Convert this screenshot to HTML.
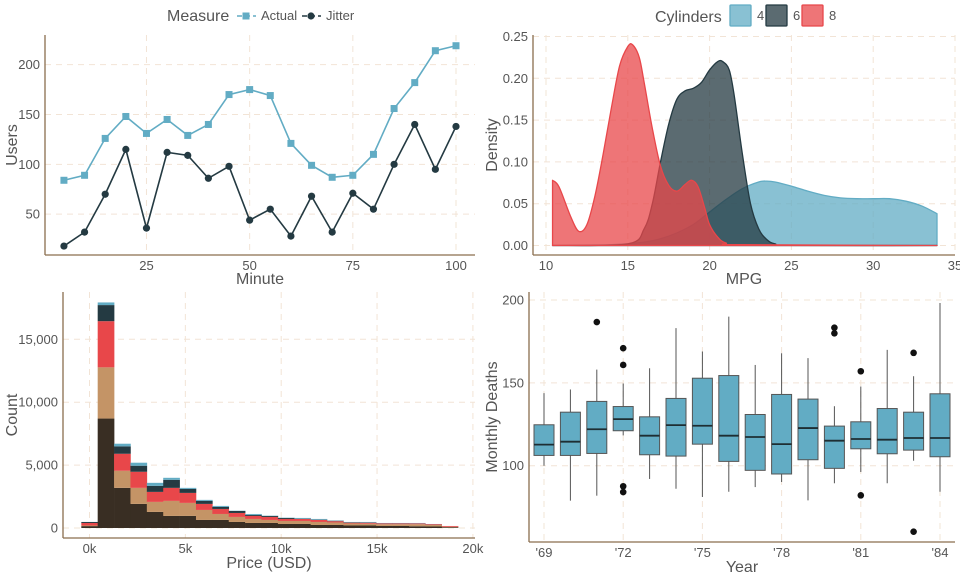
<!DOCTYPE html>
<html><head><meta charset="utf-8"><style>
body{margin:0;background:#fff;}
svg{display:block;font-family:"Liberation Sans",sans-serif;}
.tick{font-size:13px;fill:#555;}
.title{font-size:16px;fill:#555;}
.grid{stroke:#f2e4d6;stroke-width:1;stroke-dasharray:6,5;fill:none;}
.axis{stroke:#8a6e4e;stroke-width:1.3;}
</style></head><body>
<svg id="chart" width="960" height="576" viewBox="0 0 960 576"></svg>
<script>
// ---------- Panel 1 data ----------
const minutes=[5,10,15,20,25,30,35,40,45,50,55,60,65,70,75,80,85,90,95,100];
const actualUsers=[84,89,126,148,131,145,129,140,170,175,169,121,99,87,89,110,156,182,214,219];
const jitterUsers=[18,32,70,115,36,112,109,86,98,44,55,28,68,32,71,55,100,140,95,138];
const p1XTicks=[25,50,75,100];
const p1YTicks=[50,100,150,200];
// ---------- Panel 2 data ----------
const cylLabels=["4","6","8"];
const dens4X=[10.4,14,16,17,18,19,20,21,22,23,23.5,24,25,26,27,28,29,30,31,32,33,33.9];
const dens4Y=[0,0.001,0.004,0.008,0.015,0.025,0.04,0.055,0.068,0.076,0.077,0.076,0.071,0.065,0.06,0.057,0.056,0.056,0.056,0.053,0.047,0.038];
const dens6X=[10.4,15,16,16.5,17,17.5,18,18.5,19,19.5,20,20.5,20.8,21.2,21.5,22,22.5,23,23.5,24,25,33.9];
const dens6Y=[0,0.002,0.02,0.05,0.1,0.145,0.175,0.185,0.188,0.195,0.21,0.22,0.22,0.21,0.18,0.11,0.05,0.02,0.007,0.002,0,0];
const dens8X=[10.4,10.8,11.5,12,12.5,13,13.5,14,14.5,15,15.3,15.7,16,16.5,17,17.5,18,18.5,18.9,19.3,19.7,20,20.5,21,22,33.9];
const dens8Y=[0.078,0.07,0.035,0.017,0.025,0.06,0.11,0.165,0.215,0.238,0.24,0.225,0.195,0.14,0.095,0.072,0.065,0.073,0.078,0.07,0.045,0.025,0.01,0.003,0.001,0];
const p2XTicks=[10,15,20,25,30,35];
const p2YTicks=[0,0.05,0.1,0.15,0.2,0.25];
// ---------- Panel 3 data ----------
const binCenters=[0,0.8545,1.709,2.5635,3.418,4.2725,5.127,5.9815,6.836,7.6905,8.545,9.3995,10.254,11.1085,11.963,12.8175,13.672,14.5265,15.381,16.2355,17.09,17.9445,18.799];
const cntLayer1=[150,8700,3190,1915,1280,960,960,640,640,480,400,400,320,320,240,240,200,200,160,160,140,120,60];
const cntLayer2=[50,4070,1360,1275,795,1195,1035,795,475,400,320,240,240,240,240,200,160,140,140,140,160,120,40];
const cntLayer3=[200,3670,1350,1280,795,1035,795,480,400,315,240,240,160,160,160,100,60,80,60,60,60,60,60];
const cntLayer4=[80,1280,590,480,480,640,320,240,160,160,80,80,80,20,20,40,40,20,20,20,10,10,0];
const cntLayer5=[0,210,210,240,240,160,80,80,80,20,75,20,20,60,60,20,20,40,20,20,30,10,0];
const p3XTicks=[0,5,10,15,20];
const p3YTicks=[0,5000,10000,15000];
// ---------- Panel 4 data ----------
const years=[69,70,71,72,73,74,75,76,77,78,79,80,81,82,83,84];
const whiskLo=[100,78.9,81.9,118.3,92,86.1,81.1,84.3,87.1,90.2,79.1,89.4,96.2,89.4,103,84.3];
const q1=[106.2,106.2,107.4,121.1,106.6,105.8,113,102.6,97.2,95,103.6,98.4,110.2,107.2,109.4,105.4];
const med=[112.7,114.5,122,128.1,118.1,124.5,124.1,118.1,117.3,113,122.7,115.1,116.1,115.7,116.7,116.7];
const q3=[124.7,132.3,138.8,135.7,129.5,140.6,152.8,154.4,130.9,143,140.2,123.9,126.5,134.5,132.3,143.4];
const whiskHi=[143.8,146,158,149.6,158.8,183,168.9,190,160.8,167.9,164.9,135.9,147.8,169.9,154,198.2];
const outlierYear=[71,72,72,72,72,80,80,81,81,83,83];
const outlierVal=[186.7,170.9,160.8,87.6,84.1,183.3,179.9,157,82.1,168.1,60.2];
const p4XTicks=[69,72,75,78,81,84];
const p4YTicks=[100,150,200];

const NS="http://www.w3.org/2000/svg";
const svg=document.getElementById('chart');
function mk(tag,attrs,parent){const e=document.createElementNS(NS,tag);for(const k in attrs)e.setAttribute(k,attrs[k]);(parent||svg).appendChild(e);return e;}
function txt(s,attrs,parent){const e=mk('text',attrs,parent);e.textContent=s;return e;}
function smooth(pts){
  let d='';
  for(let i=0;i<pts.length-1;i++){
    const p0=pts[Math.max(0,i-1)],p1=pts[i],p2=pts[i+1],p3=pts[Math.min(pts.length-1,i+2)];
    const c1=[p1[0]+(p2[0]-p0[0])/6,p1[1]+(p2[1]-p0[1])/6];
    const c2=[p2[0]-(p3[0]-p1[0])/6,p2[1]-(p3[1]-p1[1])/6];
    d+=` C${c1[0]},${c1[1]} ${c2[0]},${c2[1]} ${p2[0]},${p2[1]}`;
  }
  return d;
}

function frame(name,L,R,T,B,xs,ys,xt,yt,xfmt,yfmt,xlab,ylab,xlabY,ylabX){
  const g=mk('g',{});
  
  
  yt.forEach(v=>{const y=ys(v);
    const l=mk('line',{x1:L,x2:R,y1:y,y2:y,class:'grid'},g);
    
    const t=txt(yfmt(v),{x:L-5,y:y+4.5,'text-anchor':'end',class:'tick'},g);
    
  });
  xt.forEach(v=>{const x=xs(v);
    const l=mk('line',{x1:x,x2:x,y1:T,y2:B,class:'grid'},g);
    
    const t=txt(xfmt(v),{x:x,y:B+15,'text-anchor':'middle',class:'tick'},g);
    
  });
  const a1=mk('line',{x1:L,x2:L,y1:T,y2:B,class:'axis'},g);
  
  const a2=mk('line',{x1:L,x2:R,y1:B,y2:B,class:'axis'},g);
  
  const xl=txt(xlab,{x:(L+R)/2,y:xlabY,'text-anchor':'middle',class:'title'},g);
  
  const cy=(T+B)/2;
  const yl=txt(ylab,{x:ylabX,y:cy,'text-anchor':'middle',class:'title',transform:`rotate(-90 ${ylabX} ${cy})`},g);
  
  return g;
}

// ---- Panel 1 ----
{
const xs=v=>43.3+v*4.127, ys=v=>264-v*0.9967;
const g=frame('users-line-chart',45,475,35,255,xs,ys,p1XTicks,p1YTicks,String,String,'Minute','Users',284,17);
const series=[[actualUsers,'#62acc4','sq','actual'],[jitterUsers,'#243a42','ci','jitter']];
series.forEach(([d,c,sh,nm])=>{
  const p=mk('polyline',{points:minutes.map((m,i)=>xs(m)+','+ys(d[i])).join(' '),fill:'none',stroke:c,'stroke-width':1.6},g);
  
  minutes.forEach((m,i)=>{
    const x=xs(m),y=ys(d[i]);
    const e=sh==='sq'?mk('rect',{x:x-3.5,y:y-3.5,width:7,height:7,fill:c},g):mk('circle',{cx:x,cy:y,r:3.6,fill:c},g);
    
  });
});
const lg=mk('g',{});

txt('Measure',{x:167,y:21,class:'title'},lg);
mk('line',{x1:237,x2:256,y1:16,y2:16,stroke:'#62acc4','stroke-width':1.6,'stroke-dasharray':'5,3'},lg);
mk('rect',{x:242.5,y:12.5,width:7,height:7,fill:'#62acc4'},lg);
const t1=txt('Actual',{x:261,y:20,class:'tick'},lg);
mk('line',{x1:302,x2:321,y1:16,y2:16,stroke:'#243a42','stroke-width':1.6,'stroke-dasharray':'5,3'},lg);
mk('circle',{cx:311,cy:16,r:3.6,fill:'#243a42'},lg);
const t2=txt('Jitter',{x:326,y:20,class:'tick'},lg);
}

// ---- Panel 2 ----
{
const xs=v=>546+(v-10)*16.36, ys=v=>245.5-v*836;
const g=frame('mpg-density-chart',533,955,35,255,xs,ys,p2XTicks,p2YTicks,String,v=>v.toFixed(2),'MPG','Density',284,497);
const cfg=[[dens4X,dens4Y,'#62acc4','rgba(98,172,196,0.75)','4'],[dens6X,dens6Y,'#243a42','rgba(36,58,66,0.75)','6'],[dens8X,dens8Y,'#e8474a','rgba(232,71,74,0.75)','8']];
cfg.forEach(([X,Y,s,f,n])=>{
  const pts=X.map((x,i)=>[xs(x),ys(Y[i])]);
  let d='M'+xs(X[0])+','+ys(0)+' L'+pts[0][0]+','+pts[0][1]+smooth(pts);
  d+=' L'+xs(X[X.length-1])+','+ys(0)+' Z';
  const p=mk('path',{d:d,fill:f,stroke:s,'stroke-width':1.3,'stroke-linejoin':'round'},g);
  
});
const lg=mk('g',{});

txt('Cylinders',{x:655,y:22,class:'title'},lg);
cfg.forEach(([X,Y,s,f,n],i)=>{
  const bx=730+i*36;
  const r=mk('rect',{x:bx,y:5,width:21,height:21,fill:f,stroke:s,'stroke-width':1.3,rx:1},lg);
  
  txt(cylLabels[i],{x:bx+27,y:20,class:'tick'},lg);
});
}

// ---- Panel 3 ----
{
const xs=v=>89.5+v*19.17, ys=v=>528-v*0.01258;
const g=frame('price-histogram',63,475,292,538,xs,ys,p3XTicks,p3YTicks,v=>v+'k',v=>v.toLocaleString('en-US'),'Price (USD)','Count',568,17);
const layers=[cntLayer1,cntLayer2,cntLayer3,cntLayer4,cntLayer5];
const cols=['#392e23','#c49466','#e8474a','#243a42','#62acc4'];
const bw=0.8545;
binCenters.forEach((c,i)=>{
  let acc=0;
  layers.forEach((L,j)=>{
    const y0=ys(acc),y1=ys(acc+L[i]);acc+=L[i];
    if(L[i]<=0)return;
    const r=mk('rect',{x:xs(c-bw/2),y:y1,width:xs(c+bw/2)-xs(c-bw/2)+0.3,height:y0-y1,fill:cols[j]},g);
    
  });
});
}

// ---- Panel 4 ----
{
const xs=v=>544+(v-69)*26.4, ys=v=>465.7-(v-100)*1.657;
const g=frame('monthly-deaths-boxplot',529,955,292,542,xs,ys,p4XTicks,p4YTicks,v=>"'"+v,String,'Year','Monthly Deaths',572,497);
years.forEach((yr,i)=>{
  const x=xs(yr),w=20;
  const bg=mk('g',{},g);
  
  mk('line',{x1:x,x2:x,y1:ys(whiskHi[i]),y2:ys(whiskLo[i]),stroke:'#555','stroke-width':1},bg);
  mk('rect',{x:x-w/2,y:ys(q3[i]),width:w,height:ys(q1[i])-ys(q3[i]),fill:'#62acc4',stroke:'#555','stroke-width':1},bg);
  mk('line',{x1:x-w/2,x2:x+w/2,y1:ys(med[i]),y2:ys(med[i]),stroke:'#1e2e33','stroke-width':1.8},bg);
});
outlierYear.forEach((yr,i)=>{
  const c=mk('circle',{cx:xs(yr),cy:ys(outlierVal[i]),r:3.3,fill:'#111'},g);
  
});
}
</script>
</body></html>
